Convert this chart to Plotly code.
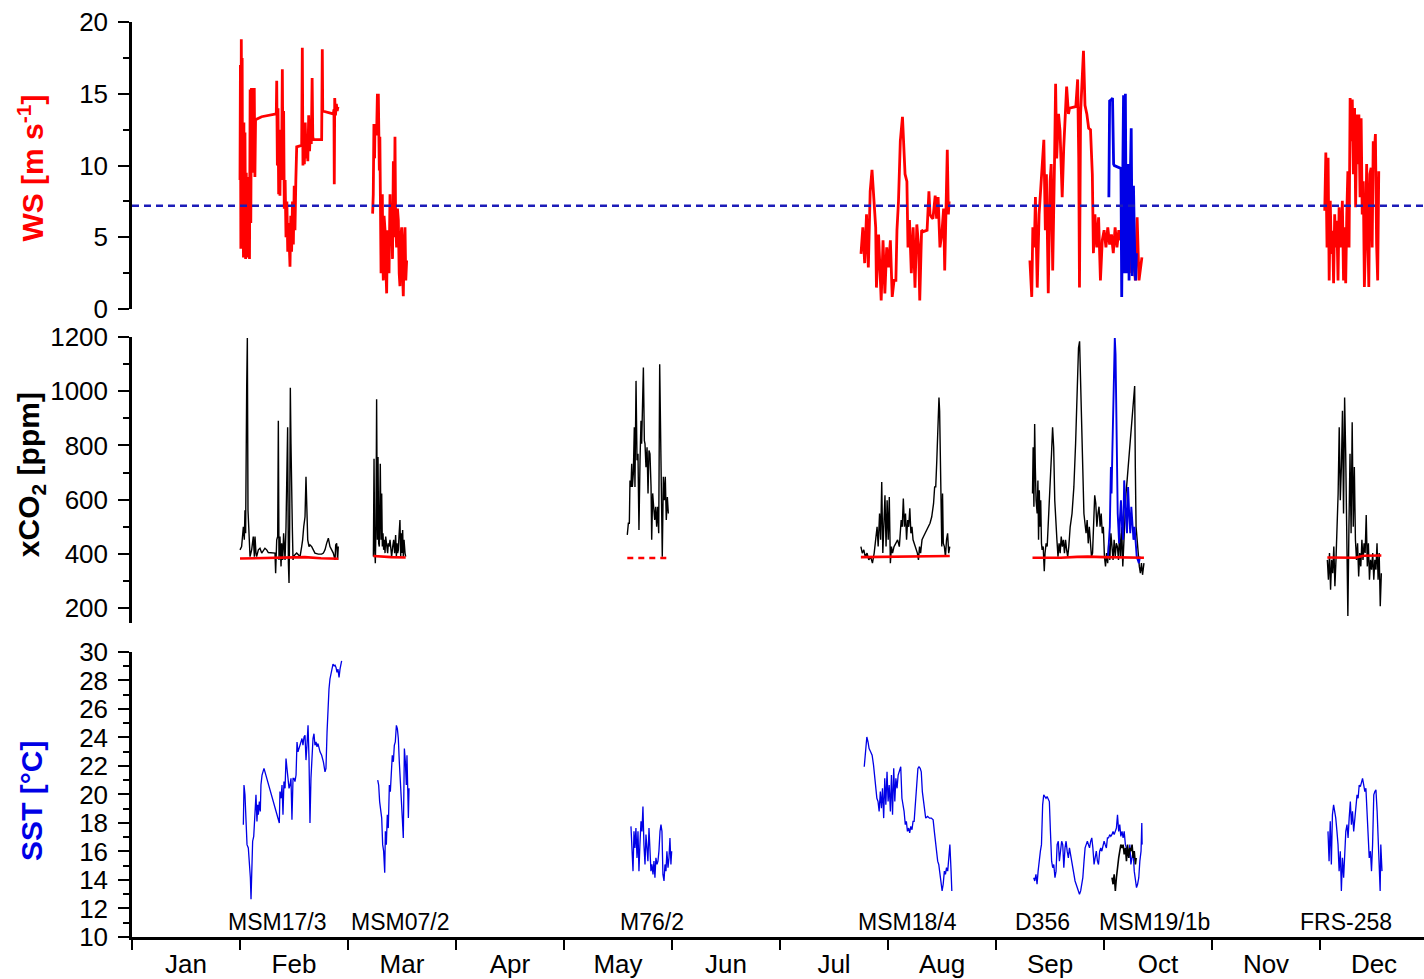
import plotly.graph_objects as go

# ---------------- data (time = fractional month since 1 Jan: 0=1 Jan, 1=1 Feb, ...) ----------------
months = ["Jan", "Feb", "Mar", "Apr", "May", "Jun", "Jul", "Aug", "Sep", "Oct", "Nov", "Dec"]

cruise_names = ["MSM17/3", "MSM07/2", "M76/2", "MSM18/4", "D356", "MSM19/1b", "FRS-258"]
cruise_label_t = [1.343, 2.481, 4.815, 7.176, 8.426, 9.472, 11.241]

ws_reference = 7.2   # dashed line in WS panel [m/s]

# ---- wind speed [m s-1] ----
ws_msm17_3 = [(1.000, 9.0), (1.004, 17.0), (1.008, 4.2), (1.012, 18.8), (1.016, 12.0), (1.020, 17.5), (1.024, 6.0),
              (1.028, 11.5), (1.032, 3.6), (1.036, 13.0), (1.040, 4.0), (1.046, 12.3), (1.052, 3.5), (1.058, 9.5),
              (1.064, 4.5), (1.070, 9.2), (1.076, 3.6), (1.082, 7.5), (1.088, 3.5), (1.094, 15.3), (1.100, 6.0),
              (1.106, 15.4), (1.112, 9.5), (1.118, 15.4), (1.124, 13.0), (1.132, 15.4), (1.138, 9.2), (1.144, 13.2),
              (1.200, 13.4), (1.336, 13.6), (1.340, 15.9), (1.346, 10.0), (1.352, 14.0), (1.358, 8.0), (1.364, 11.0),
              (1.370, 7.9), (1.376, 12.5), (1.384, 9.0), (1.392, 16.7), (1.398, 9.5), (1.404, 13.8), (1.410, 7.0),
              (1.418, 9.0), (1.426, 5.0), (1.434, 7.5), (1.442, 4.0), (1.450, 6.0), (1.456, 3.5), (1.463, 2.95),
              (1.470, 6.5), (1.478, 4.0), (1.486, 7.5), (1.494, 4.5), (1.502, 8.6), (1.509, 5.5), (1.517, 9.0),
              (1.525, 11.3), (1.571, 11.4), (1.577, 18.2), (1.583, 10.0), (1.590, 12.5), (1.596, 10.1), (1.604, 13.0),
              (1.612, 10.5), (1.620, 12.0), (1.628, 10.3), (1.636, 13.5), (1.644, 11.0), (1.652, 12.5), (1.660, 11.5),
              (1.668, 16.1), (1.674, 12.0), (1.680, 11.8), (1.756, 11.8), (1.762, 18.1), (1.766, 13.8), (1.864, 13.6),
              (1.870, 13.9), (1.873, 8.7), (1.877, 14.7), (1.884, 13.5), (1.892, 14.3), (1.900, 13.8), (1.907, 14.1)]

ws_msm07_2 = [(2.228, 6.65), (2.234, 8.0), (2.240, 12.9), (2.246, 10.5), (2.250, 12.9), (2.258, 12.2), (2.265, 12.2),
              (2.272, 14.9), (2.281, 14.9), (2.286, 11.7), (2.290, 9.65), (2.295, 12.0), (2.299, 9.65), (2.306, 2.5),
              (2.312, 6.0), (2.318, 8.0), (2.322, 3.5), (2.327, 2.0), (2.334, 6.5), (2.343, 5.5), (2.350, 3.0),
              (2.358, 1.1), (2.365, 5.5), (2.373, 4.8), (2.380, 2.5), (2.389, 8.0), (2.396, 5.0), (2.404, 6.2),
              (2.412, 3.5), (2.420, 10.3), (2.428, 5.0), (2.435, 12.0), (2.441, 6.2), (2.450, 4.3), (2.458, 7.0),
              (2.466, 6.2), (2.474, 2.5), (2.481, 1.6), (2.489, 5.0), (2.497, 5.7), (2.505, 2.5), (2.512, 0.9),
              (2.520, 4.5), (2.528, 5.7), (2.535, 2.0), (2.543, 3.4)]

ws_msm18_4 = [(6.750, 3.85), (6.767, 5.7), (6.784, 3.2), (6.801, 6.6), (6.818, 2.9), (6.835, 8.2), (6.852, 9.7),
              (6.869, 8.0), (6.886, 5.7), (6.893, 1.5), (6.913, 5.2), (6.937, 0.6), (6.954, 4.8), (6.971, 1.1),
              (6.988, 4.3), (7.005, 2.9), (7.022, 4.8), (7.039, 0.85), (7.056, 2.0), (7.073, 2.0), (7.083, 5.5),
              (7.097, 7.5), (7.114, 11.7), (7.134, 13.4), (7.148, 11.2), (7.158, 9.4), (7.175, 8.9), (7.185, 4.3),
              (7.199, 6.2), (7.216, 2.5), (7.233, 5.7), (7.250, 1.5), (7.267, 5.9), (7.284, 4.3), (7.294, 0.6),
              (7.311, 5.5), (7.328, 5.4), (7.362, 5.5), (7.379, 8.2), (7.389, 6.6), (7.403, 6.4), (7.416, 6.3),
              (7.437, 7.9), (7.450, 6.3), (7.464, 7.8), (7.481, 4.3), (7.498, 5.2), (7.515, 7.0), (7.525, 2.7),
              (7.539, 9.0), (7.549, 11.1), (7.559, 6.6), (7.566, 7.5)]

ws_d356 = [(8.314, 3.4), (8.331, 0.85), (8.341, 5.7), (8.355, 4.3), (8.365, 7.8), (8.382, 1.5), (8.399, 6.6),
           (8.409, 7.8), (8.423, 8.7), (8.443, 11.8), (8.457, 5.5), (8.467, 9.4), (8.484, 1.1), (8.501, 8.9),
           (8.511, 10.1), (8.525, 2.7), (8.542, 10.3), (8.552, 15.7), (8.562, 10.5), (8.579, 13.6), (8.593, 12.4),
           (8.603, 8.9), (8.613, 7.8), (8.627, 11.2), (8.637, 13.1), (8.654, 15.5), (8.671, 13.6), (8.681, 14.0),
           (8.739, 14.1), (8.756, 16.0), (8.766, 10.5), (8.773, 1.5), (8.783, 13.6), (8.797, 16.1), (8.810, 18.0),
           (8.824, 14.2), (8.841, 13.6), (8.858, 12.6), (8.875, 12.5), (8.892, 9.4), (8.902, 3.9), (8.916, 6.6),
           (8.933, 4.3), (8.950, 6.4), (8.967, 2.0), (8.984, 4.8), (9.001, 5.5), (9.018, 4.3), (9.035, 5.7),
           (9.052, 4.5), (9.069, 5.2), (9.086, 3.9), (9.103, 5.7), (9.120, 4.3), (9.137, 5.5), (9.154, 4.8),
           (9.171, 6.6), (9.188, 5.7), (9.205, 6.2), (9.222, 4.3), (9.239, 5.0), (9.256, 2.5), (9.273, 3.9),
           (9.290, 2.0), (9.307, 6.4), (9.324, 2.0), (9.341, 3.2), (9.351, 3.6)]

ws_msm19_1b = [(9.045, 7.8), (9.052, 14.5), (9.069, 14.6), (9.079, 14.7), (9.089, 10.1), (9.096, 10.0),
               (9.157, 9.8), (9.164, 0.85), (9.171, 7.1), (9.181, 14.9), (9.191, 2.5), (9.198, 15.0), (9.205, 5.5),
               (9.215, 2.5), (9.225, 10.1), (9.232, 2.0), (9.242, 8.5), (9.252, 12.6), (9.262, 2.3), (9.273, 8.6),
               (9.283, 4.3), (9.293, 2.0), (9.300, 3.9)]

ws_frs_258 = [(11.044, 6.85), (11.054, 10.9), (11.065, 4.3), (11.075, 10.55), (11.085, 2.0), (11.095, 7.55),
              (11.105, 3.85), (11.116, 5.45), (11.126, 1.8), (11.136, 6.6), (11.146, 4.3), (11.156, 6.15),
              (11.167, 2.0), (11.177, 7.1), (11.187, 4.3), (11.197, 5.2), (11.207, 7.55), (11.218, 2.0),
              (11.228, 5.7), (11.238, 1.8), (11.248, 6.6), (11.258, 9.6), (11.269, 4.3), (11.279, 14.7),
              (11.289, 11.7), (11.299, 14.6), (11.309, 9.4), (11.320, 14.0), (11.330, 7.1), (11.340, 13.55),
              (11.350, 10.1), (11.360, 13.55), (11.371, 7.8), (11.381, 13.3), (11.391, 6.6), (11.401, 8.9),
              (11.411, 1.55), (11.422, 4.8), (11.432, 10.1), (11.442, 6.6), (11.452, 1.55), (11.462, 9.4),
              (11.473, 9.85), (11.483, 4.3), (11.493, 11.7), (11.503, 10.8), (11.513, 12.2), (11.524, 4.55),
              (11.534, 2.0), (11.544, 9.6)]

# ---- xCO2 [ppm] ----
co2_msm17_3 = [(1.000, 415), (1.015, 427), (1.031, 500), (1.040, 452), (1.046, 561), (1.052, 476), (1.062, 1019),
               (1.068, 1196), (1.074, 561), (1.080, 476), (1.086, 403), (1.093, 390), (1.108, 415), (1.123, 464),
               (1.133, 390), (1.139, 464), (1.148, 403), (1.154, 390), (1.170, 415), (1.185, 421), (1.201, 403),
               (1.216, 415), (1.231, 421), (1.247, 415), (1.262, 405), (1.324, 403), (1.330, 329), (1.340, 452),
               (1.349, 464), (1.355, 891), (1.361, 378), (1.370, 464), (1.380, 354), (1.386, 439), (1.395, 378),
               (1.404, 476), (1.417, 378), (1.426, 500), (1.435, 830), (1.441, 867), (1.448, 366), (1.454, 293),
               (1.460, 500), (1.466, 1013), (1.472, 806), (1.478, 549), (1.485, 488), (1.491, 378), (1.497, 390),
               (1.509, 397), (1.525, 403), (1.540, 397), (1.556, 390), (1.571, 427), (1.580, 452), (1.590, 500),
               (1.602, 537), (1.611, 684), (1.617, 574), (1.627, 452), (1.639, 427), (1.648, 433), (1.664, 427),
               (1.679, 415), (1.694, 403), (1.725, 399), (1.756, 399), (1.772, 403), (1.787, 415), (1.802, 439),
               (1.818, 458), (1.833, 427), (1.849, 415), (1.864, 403), (1.880, 378), (1.886, 433), (1.895, 439),
               (1.904, 378), (1.910, 427)]

co2_msm07_2 = [(2.235, 390), (2.241, 751), (2.247, 427), (2.253, 366), (2.259, 500), (2.265, 970), (2.272, 452),
               (2.278, 757), (2.284, 439), (2.290, 427), (2.299, 732), (2.306, 452), (2.312, 623), (2.318, 427),
               (2.324, 476), (2.330, 415), (2.336, 452), (2.343, 403), (2.349, 464), (2.358, 427), (2.367, 403),
               (2.373, 439), (2.380, 427), (2.389, 452), (2.398, 415), (2.404, 390), (2.414, 427), (2.423, 452),
               (2.432, 403), (2.441, 470), (2.448, 390), (2.454, 439), (2.460, 403), (2.466, 415), (2.472, 464),
               (2.481, 525), (2.488, 390), (2.494, 476), (2.500, 403), (2.506, 488), (2.512, 390), (2.519, 452),
               (2.528, 403), (2.534, 390)]

co2_m76_2 = [(4.586, 470), (4.596, 513), (4.605, 513), (4.611, 671), (4.620, 647), (4.627, 732), (4.633, 647),
             (4.642, 696), (4.651, 867), (4.657, 647), (4.667, 1038), (4.676, 745), (4.685, 769), (4.694, 488),
             (4.704, 745), (4.713, 891), (4.719, 806), (4.728, 1013), (4.735, 1087), (4.744, 818), (4.750, 806),
             (4.759, 720), (4.769, 793), (4.778, 623), (4.787, 781), (4.796, 769), (4.806, 647), (4.812, 452),
             (4.821, 623), (4.830, 574), (4.840, 525), (4.849, 574), (4.858, 500), (4.867, 574), (4.877, 476),
             (4.886, 1099), (4.892, 928), (4.901, 610), (4.910, 390), (4.920, 684), (4.929, 598), (4.938, 684),
             (4.947, 525), (4.957, 610), (4.966, 549)]

co2_msm18_4 = [(6.749, 427), (6.762, 403), (6.776, 415), (6.789, 390), (6.806, 403), (6.822, 378), (6.839, 390),
               (6.856, 366), (6.872, 403), (6.889, 452), (6.899, 500), (6.909, 427), (6.922, 549), (6.932, 452),
               (6.942, 665), (6.952, 403), (6.962, 500), (6.972, 616), (6.982, 427), (6.992, 598), (7.002, 452),
               (7.012, 610), (7.022, 366), (7.032, 427), (7.042, 403), (7.056, 427), (7.072, 439), (7.089, 452),
               (7.105, 427), (7.122, 525), (7.132, 500), (7.142, 604), (7.152, 500), (7.162, 549), (7.172, 452),
               (7.182, 525), (7.192, 500), (7.202, 568), (7.212, 476), (7.222, 500), (7.232, 452), (7.242, 439),
               (7.255, 427), (7.272, 403), (7.282, 378), (7.292, 427), (7.302, 403), (7.315, 452), (7.329, 464),
               (7.342, 476), (7.355, 488), (7.372, 500), (7.389, 513), (7.405, 537), (7.422, 586), (7.432, 647),
               (7.442, 647), (7.452, 745), (7.462, 842), (7.472, 977), (7.478, 928), (7.485, 769), (7.492, 647),
               (7.498, 427), (7.505, 623), (7.512, 439), (7.522, 427), (7.532, 390), (7.542, 452), (7.552, 476),
               (7.562, 403), (7.572, 427)]

co2_d356 = [(8.338, 623), (8.344, 793), (8.351, 574), (8.358, 879), (8.364, 720), (8.371, 598), (8.381, 549),
            (8.388, 671), (8.394, 452), (8.401, 635), (8.407, 500), (8.414, 598), (8.421, 439), (8.427, 415),
            (8.437, 427), (8.447, 336), (8.454, 403), (8.464, 439), (8.474, 427), (8.484, 500), (8.494, 574),
            (8.504, 659), (8.514, 769), (8.524, 867), (8.534, 793), (8.544, 598), (8.554, 500), (8.564, 452),
            (8.574, 390), (8.584, 439), (8.594, 403), (8.604, 464), (8.614, 427), (8.624, 452), (8.634, 403),
            (8.644, 452), (8.654, 415), (8.664, 390), (8.674, 427), (8.687, 500), (8.704, 549), (8.721, 647),
            (8.737, 806), (8.754, 1050), (8.764, 1160), (8.774, 1184), (8.784, 1050), (8.794, 842), (8.804, 708),
            (8.814, 549), (8.824, 500), (8.834, 476), (8.844, 525), (8.854, 439), (8.864, 500), (8.874, 452),
            (8.884, 390), (8.894, 403), (8.904, 525), (8.914, 616), (8.924, 586), (8.934, 500), (8.944, 549),
            (8.954, 574), (8.964, 500), (8.974, 549), (8.984, 476), (8.994, 500), (9.004, 390), (9.014, 354),
            (9.024, 403), (9.034, 366), (9.044, 439), (9.054, 378), (9.064, 476), (9.074, 403), (9.084, 378),
            (9.094, 452), (9.104, 390), (9.114, 439), (9.124, 427), (9.134, 378), (9.144, 476), (9.154, 390),
            (9.164, 500), (9.174, 354), (9.184, 452), (9.194, 549), (9.204, 623), (9.214, 671), (9.224, 720),
            (9.234, 769), (9.244, 818), (9.254, 867), (9.264, 928), (9.274, 989), (9.284, 1019), (9.290, 720),
            (9.297, 500), (9.307, 452), (9.317, 378), (9.327, 354), (9.337, 329), (9.347, 366), (9.357, 323),
            (9.370, 366)]

co2_msm19_1b = [(9.037, 390), (9.047, 439), (9.054, 500), (9.064, 720), (9.070, 623), (9.077, 769), (9.087, 928),
                (9.093, 1050), (9.100, 1196), (9.107, 1135), (9.113, 928), (9.120, 720), (9.127, 549), (9.133, 500),
                (9.140, 439), (9.147, 525), (9.157, 598), (9.167, 500), (9.177, 452), (9.187, 671), (9.193, 598),
                (9.203, 549), (9.213, 476), (9.223, 647), (9.233, 549), (9.243, 476), (9.253, 574), (9.263, 500),
                (9.273, 452), (9.283, 500), (9.293, 427), (9.303, 390), (9.313, 378), (9.323, 366), (9.333, 390)]

co2_frs_258 = [(11.068, 378), (11.078, 305), (11.088, 403), (11.098, 268), (11.108, 378), (11.118, 329),
               (11.128, 427), (11.138, 281), (11.148, 378), (11.158, 476), (11.168, 623), (11.178, 867),
               (11.188, 598), (11.198, 720), (11.208, 928), (11.218, 549), (11.228, 977), (11.238, 769),
               (11.248, 452), (11.258, 171), (11.268, 500), (11.278, 769), (11.288, 476), (11.298, 885),
               (11.308, 500), (11.318, 720), (11.328, 452), (11.338, 378), (11.348, 439), (11.358, 317),
               (11.368, 403), (11.378, 354), (11.388, 452), (11.398, 378), (11.408, 439), (11.418, 403),
               (11.428, 543), (11.438, 354), (11.448, 439), (11.458, 305), (11.468, 378), (11.478, 342),
               (11.488, 403), (11.498, 305), (11.508, 378), (11.518, 342), (11.528, 439), (11.538, 305),
               (11.548, 403), (11.558, 207), (11.568, 329)]

# atmospheric xCO2 reference (red lines)
atm_msm17_3 = [(1.000, 383), (1.200, 384), (1.450, 385), (1.600, 388), (1.750, 384), (1.910, 382)]
atm_msm07_2 = [(2.235, 392), (2.300, 390), (2.400, 388), (2.534, 387)]
atm_m76_2 = [(4.586, 385), (4.966, 385)]
atm_msm18_4 = [(6.749, 388), (7.000, 389), (7.300, 391), (7.572, 392)]
atm_d356 = [(8.338, 386), (8.600, 386), (8.750, 389), (8.850, 390), (9.000, 388), (9.200, 388), (9.370, 386)]
atm_frs_258 = [(11.068, 387), (11.200, 387), (11.330, 386), (11.400, 393), (11.568, 394)]

# ---- SST [deg C] ----
sst_msm17_3 = [(1.031, 17.88), (1.037, 20.66), (1.046, 19.97), (1.056, 18.34), (1.065, 16.48), (1.077, 16.25),
               (1.086, 15.32), (1.096, 14.16), (1.102, 12.65), (1.108, 15.32), (1.117, 16.72), (1.127, 17.06),
               (1.133, 17.88), (1.139, 19.50), (1.148, 19.97), (1.157, 18.11), (1.164, 19.27), (1.170, 18.57),
               (1.179, 19.50), (1.188, 18.81), (1.194, 20.66), (1.204, 21.36), (1.213, 21.71), (1.222, 21.83),
               (1.364, 18.00), (1.370, 20.20), (1.380, 19.73), (1.389, 20.66), (1.398, 18.57), (1.407, 20.90),
               (1.417, 20.43), (1.426, 22.52), (1.435, 21.83), (1.444, 21.13), (1.454, 20.43), (1.463, 20.66),
               (1.472, 21.13), (1.481, 18.22), (1.491, 21.13), (1.500, 21.13), (1.509, 20.90), (1.519, 21.36),
               (1.528, 23.68), (1.537, 22.99), (1.546, 23.22), (1.556, 23.45), (1.565, 23.68), (1.574, 23.92),
               (1.583, 23.45), (1.593, 24.03), (1.602, 24.15), (1.611, 22.41), (1.620, 23.45), (1.630, 24.85),
               (1.639, 22.52), (1.648, 18.00), (1.657, 21.13), (1.667, 22.75), (1.676, 23.92), (1.685, 24.26),
               (1.694, 23.45), (1.704, 23.68), (1.713, 23.34), (1.722, 23.57), (1.731, 23.22), (1.741, 22.99),
               (1.756, 22.75), (1.772, 22.29), (1.787, 21.59), (1.796, 21.83), (1.806, 24.38), (1.815, 26.24),
               (1.824, 27.40), (1.833, 28.10), (1.843, 28.56), (1.852, 29.03), (1.861, 29.14), (1.870, 29.03),
               (1.880, 29.07), (1.889, 28.91), (1.898, 28.56), (1.907, 28.79), (1.917, 28.21), (1.926, 28.79),
               (1.935, 29.26), (1.941, 29.37)]

sst_msm07_2 = [(2.275, 21.00), (2.284, 20.66), (2.293, 19.50), (2.302, 18.81), (2.312, 18.34), (2.321, 16.48),
               (2.330, 16.02), (2.340, 14.51), (2.346, 17.41), (2.355, 16.48), (2.364, 18.57), (2.373, 17.64),
               (2.383, 20.66), (2.392, 20.20), (2.401, 21.59), (2.410, 22.75), (2.420, 22.29), (2.429, 23.45),
               (2.438, 23.68), (2.448, 24.85), (2.457, 24.61), (2.466, 23.92), (2.475, 22.29), (2.485, 21.13),
               (2.494, 19.73), (2.503, 18.34), (2.512, 16.95), (2.522, 23.22), (2.531, 22.29), (2.540, 20.66),
               (2.546, 22.75), (2.552, 21.13), (2.559, 18.34), (2.565, 20.43)]

sst_m76_2 = [(4.620, 17.76), (4.629, 16.48), (4.639, 14.62), (4.648, 17.41), (4.657, 16.25), (4.666, 17.64),
             (4.676, 15.55), (4.685, 17.41), (4.694, 14.62), (4.703, 16.48), (4.713, 18.11), (4.722, 17.41),
             (4.731, 19.15), (4.740, 16.48), (4.750, 15.09), (4.759, 17.18), (4.768, 16.48), (4.777, 15.32),
             (4.787, 17.64), (4.796, 15.55), (4.805, 14.62), (4.814, 15.09), (4.824, 14.39), (4.833, 15.32),
             (4.842, 14.16), (4.851, 15.55), (4.861, 15.09), (4.870, 15.32), (4.879, 16.02), (4.889, 17.41),
             (4.898, 17.88), (4.907, 17.41), (4.916, 14.39), (4.926, 13.93), (4.935, 15.09), (4.944, 14.62),
             (4.953, 16.02), (4.963, 14.86), (4.972, 15.55), (4.981, 16.95), (4.990, 15.09), (4.997, 16.02)]

sst_msm18_4 = [(6.780, 21.94), (6.791, 22.75), (6.804, 24.03), (6.815, 23.68), (6.825, 23.22), (6.839, 22.99),
               (6.853, 22.75), (6.866, 22.06), (6.877, 21.13), (6.887, 20.43), (6.897, 19.73), (6.908, 19.50),
               (6.918, 18.81), (6.929, 20.20), (6.939, 19.04), (6.949, 20.43), (6.960, 18.34), (6.970, 21.13),
               (6.980, 19.27), (6.991, 21.59), (7.001, 19.50), (7.011, 20.66), (7.022, 18.81), (7.032, 21.36),
               (7.042, 18.57), (7.053, 21.83), (7.063, 19.50), (7.073, 21.13), (7.084, 20.43), (7.094, 21.36),
               (7.108, 21.83), (7.118, 21.94), (7.129, 19.73), (7.139, 19.27), (7.149, 18.81), (7.160, 17.88),
               (7.170, 18.11), (7.180, 17.41), (7.191, 17.64), (7.201, 17.30), (7.211, 17.76), (7.222, 17.53),
               (7.232, 18.11), (7.242, 18.11), (7.256, 19.27), (7.266, 20.66), (7.277, 21.83), (7.287, 21.94),
               (7.298, 21.83), (7.308, 21.59), (7.318, 20.20), (7.329, 19.50), (7.339, 18.57), (7.349, 18.34),
               (7.367, 18.46), (7.384, 18.34), (7.401, 18.34), (7.418, 18.22), (7.429, 17.41), (7.439, 16.72),
               (7.449, 16.02), (7.460, 15.32), (7.470, 15.09), (7.480, 14.39), (7.491, 13.70), (7.501, 13.23),
               (7.511, 13.70), (7.522, 14.62), (7.532, 14.39), (7.542, 14.86), (7.553, 14.62), (7.563, 15.79),
               (7.573, 16.48), (7.584, 14.62), (7.591, 13.23)]

sst_d356 = [(8.349, 14.16), (8.359, 13.93), (8.370, 14.39), (8.380, 13.70), (8.390, 14.62), (8.401, 15.55),
            (8.411, 16.02), (8.421, 16.48), (8.432, 19.27), (8.442, 19.97), (8.452, 19.85), (8.463, 19.73),
            (8.473, 19.85), (8.483, 19.73), (8.494, 19.50), (8.504, 17.41), (8.515, 15.32), (8.525, 14.86),
            (8.535, 15.09), (8.546, 14.16), (8.556, 14.62), (8.566, 16.48), (8.577, 16.72), (8.587, 15.32),
            (8.597, 16.02), (8.608, 16.72), (8.618, 16.48), (8.628, 14.86), (8.639, 16.25), (8.649, 16.72),
            (8.659, 16.02), (8.670, 15.55), (8.680, 16.25), (8.690, 15.79), (8.701, 15.32), (8.711, 14.62),
            (8.722, 14.16), (8.732, 13.93), (8.742, 13.70), (8.753, 13.46), (8.763, 13.23), (8.773, 13.00),
            (8.784, 13.23), (8.794, 13.70), (8.804, 14.16), (8.815, 15.32), (8.825, 16.25), (8.835, 16.48),
            (8.846, 16.72), (8.856, 16.48), (8.866, 16.25), (8.877, 16.72), (8.887, 16.95), (8.897, 16.25),
            (8.908, 15.09), (8.918, 15.55), (8.929, 16.02), (8.939, 15.32), (8.949, 15.09), (8.960, 16.02),
            (8.970, 16.25), (8.980, 16.02), (8.991, 16.48), (9.001, 16.72), (9.011, 16.48), (9.022, 16.25),
            (9.032, 16.95), (9.042, 16.95), (9.053, 17.18), (9.063, 17.06), (9.073, 17.18), (9.084, 17.41),
            (9.094, 17.18), (9.104, 17.41), (9.115, 17.64), (9.125, 18.57), (9.136, 17.41), (9.146, 17.88),
            (9.156, 17.06), (9.167, 17.41), (9.177, 16.95), (9.187, 17.41), (9.198, 16.48), (9.208, 16.25),
            (9.218, 16.02), (9.229, 15.55), (9.239, 16.48), (9.249, 15.09), (9.260, 15.55), (9.270, 16.02),
            (9.280, 14.62), (9.291, 14.16), (9.301, 13.46), (9.311, 13.70), (9.322, 14.16), (9.332, 15.32),
            (9.343, 16.02), (9.350, 18.00), (9.353, 16.48)]

sst_msm19_1b = [(9.074, 14.16), (9.084, 13.70), (9.094, 14.39), (9.105, 13.23), (9.115, 14.16), (9.125, 15.09),
                (9.136, 15.55), (9.146, 16.02), (9.156, 16.48), (9.167, 16.25), (9.177, 16.48), (9.187, 15.79),
                (9.198, 16.25), (9.208, 15.32), (9.218, 16.48), (9.229, 15.55), (9.239, 16.25), (9.249, 16.02),
                (9.260, 16.48), (9.270, 15.55), (9.280, 16.02), (9.291, 15.09), (9.298, 15.55)]

sst_frs_258 = [(11.074, 17.41), (11.084, 15.32), (11.095, 18.11), (11.105, 15.09), (11.115, 18.57), (11.126, 19.27),
               (11.136, 18.81), (11.146, 18.34), (11.157, 17.41), (11.167, 16.48), (11.177, 14.62), (11.188, 16.02),
               (11.198, 13.23), (11.208, 15.55), (11.219, 14.16), (11.229, 16.48), (11.239, 17.41), (11.250, 17.88),
               (11.260, 16.95), (11.270, 18.34), (11.281, 19.50), (11.291, 17.88), (11.301, 18.81), (11.312, 17.41),
               (11.322, 18.11), (11.332, 18.81), (11.343, 19.97), (11.353, 19.73), (11.363, 20.66), (11.374, 20.55),
               (11.384, 20.90), (11.394, 21.13), (11.405, 20.66), (11.415, 20.20), (11.425, 20.43), (11.436, 18.81),
               (11.446, 17.41), (11.456, 15.55), (11.467, 16.02), (11.477, 14.62), (11.487, 16.48), (11.498, 19.97),
               (11.508, 20.20), (11.518, 20.32), (11.529, 18.81), (11.539, 16.48), (11.549, 13.70), (11.557, 13.23),
               (11.563, 16.48), (11.574, 14.62)]

# ---------------- styling ----------------
RED = "#ff0000"
BLUE = "#0000e6"
DASH_BLUE = "#1c1cb8"
FONT = "Liberation Sans, Arial, Helvetica, sans-serif"

fig = go.Figure()


def add(series, yaxis, color, width, dash="solid"):
    t = [p[0] for p in series]
    v = [p[1] for p in series]
    fig.add_trace(go.Scatter(x=t, y=v, mode="lines", xaxis="x", yaxis=yaxis,
                             line=dict(color=color, width=width, dash=dash),
                             hoverinfo="skip", showlegend=False))


# WS panel
for s in [ws_msm17_3, ws_msm07_2, ws_msm18_4, ws_d356, ws_frs_258]:
    add(s, "y", RED, 2.8)
add(ws_msm19_1b, "y", BLUE, 2.8)

# xCO2 panel
for s in [co2_msm17_3, co2_msm07_2, co2_m76_2, co2_msm18_4, co2_d356, co2_frs_258]:
    add(s, "y2", "black", 1.4)
add(co2_msm19_1b, "y2", BLUE, 1.9)
for s in [atm_msm17_3, atm_msm07_2, atm_msm18_4, atm_d356, atm_frs_258]:
    add(s, "y2", RED, 2.6)
add(atm_m76_2, "y2", RED, 2.6, dash="6px,5px")

# SST panel
for s in [sst_msm17_3, sst_msm07_2, sst_m76_2, sst_msm18_4, sst_d356, sst_frs_258]:
    add(s, "y3", BLUE, 1.3)
add(sst_msm19_1b, "y3", "black", 1.6)

# reference wind speed line
fig.add_hline(y=ws_reference, xref="x", yref="y", line=dict(color=DASH_BLUE, width=2.5, dash="7px,5px"))

# cruise labels
for name, t in zip(cruise_names, cruise_label_t):
    fig.add_annotation(x=t, y=11.05, xref="x", yref="y3", text=name, showarrow=False,
                       xanchor="center", yanchor="middle", font=dict(size=23, color="black", family=FONT))

# axis titles
titles = [("WS [m s<sup>-1</sup>]", RED, 0.84), ("xCO<sub>2</sub> [ppm]", "black", 0.505),
          ("SST [°C]", BLUE, 0.149)]
for text, col, yy in titles:
    fig.add_annotation(x=-0.078, y=yy, xref="paper", yref="paper", text="<b>" + text + "</b>", showarrow=False,
                       textangle=-90, xanchor="center", yanchor="middle", font=dict(size=30, color=col, family=FONT))

yax_common = dict(showline=True, linecolor="black", linewidth=2.5, ticks="outside", ticklen=11, tickwidth=1.8,
                  tickcolor="black", showgrid=False, zeroline=False, anchor="x", side="left",
                  tickfont=dict(size=26, color="black", family=FONT), ticklabelstandoff=5)

fig.update_layout(
    width=1424, height=979,
    margin=dict(l=132, r=0, t=22, b=36),
    paper_bgcolor="white", plot_bgcolor="white", showlegend=False,
    font=dict(family=FONT, color="black"),
    xaxis=dict(range=[0, 11.963], anchor="y3", showline=True, linecolor="black", linewidth=2.5,
               showgrid=False, zeroline=False, tickmode="array", tickvals=[i + 0.5 for i in range(12)],
               ticktext=months, ticks="", tickfont=dict(size=26, color="black", family=FONT),
               ticklabelstandoff=2,
               minor=dict(tickmode="array", tickvals=list(range(12)), ticks="outside", ticklen=10,
                          tickwidth=1.5, tickcolor="black", showgrid=False)),
    yaxis=dict(domain=[0.6862, 1.0], range=[0, 20], tickmode="array", tickvals=[0, 5, 10, 15, 20],
               minor=dict(tickmode="array", tickvals=[2.5, 7.5, 12.5, 17.5], ticks="outside", ticklen=6,
                          tickwidth=1.5, tickcolor="black", showgrid=False),
               **yax_common),
    yaxis2=dict(domain=[0.3431, 0.6558], range=[145, 1200], tickmode="array",
                tickvals=[200, 400, 600, 800, 1000, 1200],
                minor=dict(tickmode="array", tickvals=[300, 500, 700, 900, 1100], ticks="outside", ticklen=6,
                           tickwidth=1.5, tickcolor="black", showgrid=False),
                **yax_common),
    yaxis3=dict(domain=[0.0, 0.3116], range=[10, 30], tickmode="array", tickvals=list(range(10, 31, 2)),
                minor=dict(tickmode="array", tickvals=list(range(11, 30, 2)), ticks="outside", ticklen=6,
                           tickwidth=1.5, tickcolor="black", showgrid=False),
                **yax_common),
)

fig.write_html("out.html")
